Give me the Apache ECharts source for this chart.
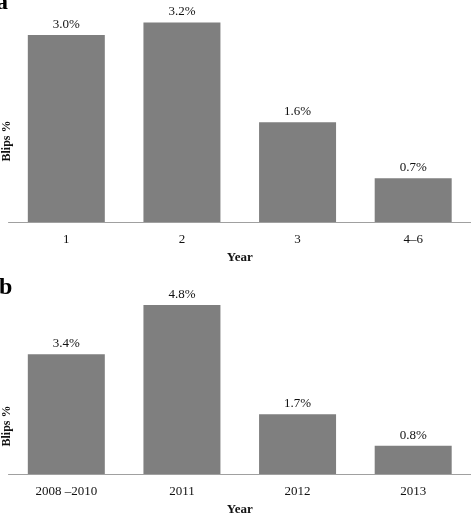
<!DOCTYPE html>
<html>
<head>
<meta charset="utf-8">
<script src="https://cdn.jsdelivr.net/npm/echarts@6/dist/echarts.min.js"></script>
<style>
html,body{margin:0;padding:0;background:#fff;overflow:hidden;}
#chart{width:471px;height:517px;}
</style>
</head>
<body>
<div id="chart"></div>
<script>
const categoriesA = ['1', '2', '3', '4–6'];
const valuesA = [3.0, 3.2, 1.6, 0.7];
const categoriesB = ['2008 –2010', '2011', '2012', '2013'];
const valuesB = [3.4, 4.8, 1.7, 0.8];
const panelLabels = ['a', 'b'];
const yAxisTitle = 'Blips %';
const xAxisTitle = 'Year';

const serif = '"Liberation Serif", "DejaVu Serif", serif';
const chart = echarts.init(document.getElementById('chart'), null, {width: 471, height: 517});

function xAxisCfg(gridIndex, cats) {
  return {
    type: 'category', gridIndex: gridIndex, data: cats,
    name: xAxisTitle, nameLocation: 'middle', nameGap: 29,
    nameTextStyle: {fontFamily: serif, fontWeight: 'bold', fontSize: 13, color: '#111'},
    axisLine: {show: true, lineStyle: {color: '#a0a0a0', width: 1}},
    axisTick: {show: false},
    axisLabel: {fontFamily: serif, fontSize: 13, color: '#111', margin: 11}
  };
}
function yAxisCfg(gridIndex, max) {
  return {
    type: 'value', gridIndex: gridIndex, min: 0, max: max,
    show: false, splitLine: {show: false}
  };
}
function seriesCfg(idx, vals) {
  return {
    type: 'bar', xAxisIndex: idx, yAxisIndex: idx, data: vals,
    barWidth: 77,
    itemStyle: {color: '#7f7f7f'},
    label: {
      show: true, position: 'top', distance: 4,
      fontFamily: serif, fontSize: 13, color: '#111',
      formatter: p => p.value.toFixed(1) + '%'
    }
  };
}

chart.setOption({
  animation: false,
  backgroundColor: '#fff',
  grid: [
    {left: 8.5, width: 463, top: 10, height: 212},
    {left: 8.5, width: 463, top: 298, height: 180}
  ],
  xAxis: [xAxisCfg(0, categoriesA), xAxisCfg(1, categoriesB)],
  yAxis: [yAxisCfg(0, 3.4), yAxisCfg(1, 5.0)],
  series: [seriesCfg(0, valuesA), seriesCfg(1, valuesB)],
  graphic: [
    {type: 'text', left: -4, top: -9, style: {text: panelLabels[0], font: 'bold 24px ' + serif, fill: '#000'}},
    {type: 'text', left: -1, top: 276, style: {text: panelLabels[1], font: 'bold 24px ' + serif, fill: '#000'}},
    {type: 'text', x: 7, y: 141, rotation: Math.PI / 2, style: {text: yAxisTitle, font: 'bold 12px ' + serif, fill: '#111', align: 'center', verticalAlign: 'middle'}},
    {type: 'text', x: 7, y: 426, rotation: Math.PI / 2, style: {text: yAxisTitle, font: 'bold 12px ' + serif, fill: '#111', align: 'center', verticalAlign: 'middle'}}
  ]
});
</script>
</body>
</html>
